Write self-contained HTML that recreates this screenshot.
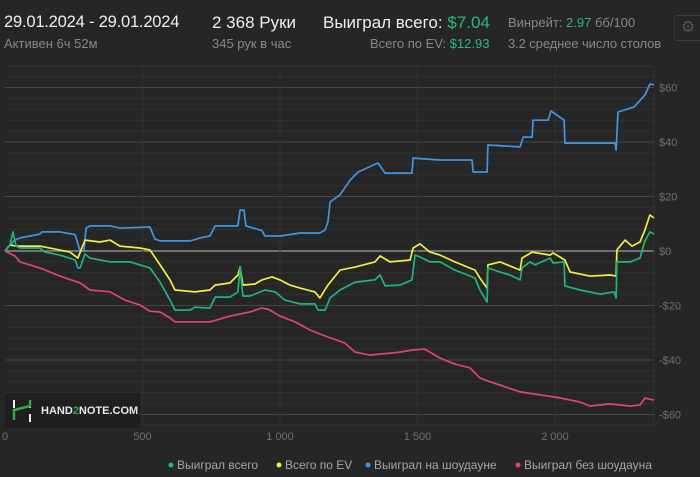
<!DOCTYPE html>
<html><head><meta charset="utf-8"><style>
body{margin:0;background:#262626;width:700px;height:477px;overflow:hidden;font-family:"Liberation Sans",sans-serif}
.t{position:absolute;white-space:nowrap}
</style></head><body>
<div style="position:relative;width:700px;height:477px">
<div class="t" style="left:4px;top:13px;font-size:16.5px;color:#eee;letter-spacing:-0.2px">29.01.2024 - 29.01.2024</div>
<div class="t" style="left:4px;top:36px;font-size:13px;color:#888">Активен 6ч 52м</div>
<div class="t" style="left:212px;top:13px;font-size:17px;color:#eee">2 368 Руки</div>
<div class="t" style="left:212px;top:36px;font-size:13px;color:#888">345 рук в час</div>
<div class="t" style="left:323px;top:13px;font-size:17px;color:#eee">Выиграл всего: <span style="color:#2bb77e">$7.04</span></div>
<div class="t" style="left:370px;top:36px;font-size:13px;color:#888">Всего по EV: <span style="color:#2bb77e">$12.93</span></div>
<div class="t" style="left:508px;top:15px;font-size:13px;color:#888">Винрейт: <span style="color:#2bb77e">2.97</span> бб/100</div>
<div class="t" style="left:508px;top:36px;font-size:13px;color:#888;letter-spacing:-0.1px">3.2 среднее число столов</div>
<div style="position:absolute;left:674px;top:15px;width:26px;height:24px;border:1px solid #3a3a3a;border-radius:3px;color:#555;font-size:16px;text-align:center;line-height:24px">⚙</div>
<svg id="chart" width="700" height="477" style="position:absolute;left:0;top:0"></svg>
</div>
<script>
const xTicks=[0,500,1000,1500,2000];
const xTickLabels=["0","500","1 000","1 500","2 000"];
const yTicks=[60,40,20,0,-20,-40,-60];
const yTickLabels=["$60","$40","$20","$0","-$20","-$40","-$60"];
const wonHands=[0,18,29,40,55,127,145,200,255,265,273,291,309,382,455,527,564,600,618,673,691,745,764,818,847,855,865,891,945,982,1018,1073,1127,1138,1164,1182,1218,1273,1345,1364,1382,1436,1480,1491,1509,1545,1582,1636,1709,1727,1753,1756,1800,1836,1873,1880,1909,1927,1982,1993,2033,2036,2091,2164,2215,2222,2225,2273,2309,2327,2345,2360];
const wonValues=[0,2.2,7,1.8,1.1,1.1,-0.4,-1.5,-3.3,-6.2,-6.2,-1.1,-2.6,-4,-4,-6.2,-11.4,-18,-21.7,-21.7,-20.6,-21,-16.9,-16.9,-15,-6.2,-16.5,-16.5,-14.3,-15,-18,-19.4,-19.4,-21.7,-21.7,-17.2,-14.3,-11.4,-10.6,-8.8,-12.8,-12.5,-10.6,-1.5,-2.2,-4,-4,-7,-9.9,-14.3,-18.7,-6.2,-7.7,-8.8,-10.6,-6.2,-4,-5.1,-2.6,-4.4,-4,-12.8,-14.3,-15.8,-15,-17.2,-4,-4,-2.6,3.7,7,6.2];
const evHands=[0,18,40,127,236,265,291,345,382,418,491,527,564,600,618,691,745,764,818,847,855,865,909,934,971,1000,1036,1073,1127,1145,1174,1218,1273,1345,1364,1400,1473,1484,1509,1545,1582,1636,1709,1727,1753,1756,1800,1873,1880,1917,1982,1993,2036,2055,2127,2200,2222,2225,2255,2280,2309,2327,2345,2360];
const evValues=[0,2.2,1.8,1.8,-0.4,-2.6,4,3.3,4,1.8,1.1,0.4,-5.1,-10.6,-14.3,-15,-14.3,-12.5,-11.7,-8.8,-5.9,-12.5,-12.1,-10.6,-9.5,-10.6,-12.5,-13.6,-15,-17.2,-12.5,-7,-5.9,-4,-1.8,-4,-3.3,1.1,2.6,-0.4,-1.5,-4,-7,-9.9,-13.6,-5.1,-4,-7,-2.6,-0.4,-1.5,-0.7,-3.3,-7.7,-9.2,-8.8,-9.2,0.4,4,1.8,3.3,7.7,13.2,12.1];
const sdHands=[0,11,36,55,91,127,134,200,255,273,287,295,309,345,382,418,527,545,564,673,709,745,764,847,855,869,876,934,945,1000,1073,1145,1164,1174,1182,1218,1255,1284,1356,1382,1480,1484,1582,1698,1702,1753,1756,1873,1884,1917,1920,1975,1985,2033,2036,2218,2222,2229,2287,2327,2345,2360];
const sdValues=[0,1.5,4,4.8,5.5,6.2,7,7,6,0,0,8.4,9.2,9.2,9.2,8.4,8.8,4.4,3.7,3.7,4.8,5.5,9.2,9.2,15,15,9.2,7.5,5.5,5.5,6.6,6.6,7.7,10.6,18,20.6,26,29,32.3,28.6,28.6,34.1,33.4,33.4,29,29,38.9,38.2,41.8,41.8,48,48,51.4,48,39.6,39.6,37,51,52.8,57.2,61.3,61];
const nsdHands=[0,36,55,127,200,273,309,382,436,491,527,564,600,618,673,745,818,891,934,960,1000,1055,1109,1164,1236,1273,1327,1436,1484,1527,1582,1636,1691,1727,1764,1800,1873,1945,2018,2091,2127,2200,2273,2309,2327,2360];
const nsdValues=[0,-1.8,-4,-6.2,-9.2,-11.7,-14.3,-15,-18,-19.8,-22.1,-22.4,-24.6,-26,-26,-26,-23.9,-22.4,-20.9,-21.5,-23.9,-26,-29,-31.2,-33.8,-37.1,-38.2,-37.1,-36.3,-36,-39.3,-41.5,-42.9,-46.6,-48,-49.2,-51.7,-52.8,-53.9,-55.4,-56.9,-56.1,-56.9,-56.5,-54,-54.7];

const NS='http://www.w3.org/2000/svg';
const svg=document.getElementById('chart');
const L=5,R=654,T=66,B=425;
function X(h){return 5+h*0.275;}
function Y(v){return 251-v*2.725;}
function mk(tag,attrs,parent){const e=document.createElementNS(NS,tag);for(const k in attrs)e.setAttribute(k,attrs[k]);(parent||svg).appendChild(e);return e;}
for(let v=-64;v<=64;v+=4){const y=Y(v);if(y<T||y>B)continue;
 const g=mk('line',{x1:L,x2:R,y1:y,y2:y,stroke:v===0?'#8a8a8a':(v%20===0?'#464646':'#313131'),'stroke-width':v===0?1.5:1});
 
 }
mk('line',{x1:L,x2:R,y1:T,y2:T,stroke:'#333'});
mk('line',{x1:L,x2:R,y1:B,y2:B,stroke:'#333'});
mk('line',{x1:R,x2:R,y1:T,y2:B,stroke:'#333'});
xTicks.forEach((t,i)=>{const x=X(t);
 if(t>0){const g=mk('line',{x1:x,x2:x,y1:T,y2:B,stroke:'#333'});
 
 }
 const tx=mk('text',{x:x,y:440,fill:'#6f6f6f','font-size':11,'text-anchor':'middle','font-family':'Liberation Sans, sans-serif'});
 tx.textContent=xTickLabels[i];
 
 });
yTicks.forEach((t,i)=>{const tx=mk('text',{x:659,y:Y(t)+4,fill:'#6f6f6f','font-size':11,'font-family':'Liberation Sans, sans-serif'});
 tx.textContent=yTickLabels[i];
 
 });
const wm=mk('g',{});


mk('rect',{x:5,y:393,width:135,height:35,fill:'#1f1f1f'},wm);
mk('path',{d:'M14 400 v8 M30 400 v8 M14 420 v-10 l16 -4 M30 414 v8',stroke:'#eee','stroke-width':2,fill:'none'},wm);
mk('path',{d:'M14 410 v10 M14 410 L30 406 v-6',stroke:'#2aa84a','stroke-width':2.5,fill:'none'},wm);
const wt=mk('text',{x:41,y:414,fill:'#e8e8e8','font-size':11,'font-weight':'bold','font-family':'Liberation Sans, sans-serif'},wm);
wt.innerHTML='HAND<tspan fill="#2aa84a">2</tspan>NOTE.COM';
function series(h,v,color,name){const n=Math.min(h.length,v.length);let d='';
 for(let i=0;i<n;i++)d+=(i?'L':'M')+X(h[i]).toFixed(1)+' '+Y(v[i]).toFixed(1);
 const p=mk('path',{d:d,stroke:color,'stroke-width':1.7,fill:'none','stroke-linejoin':'round'});
 
 }
series(nsdHands,nsdValues,'#e0437c','line-won-without-showdown');
series(sdHands,sdValues,'#3f95e2','line-won-at-showdown');
series(evHands,evValues,'#eeee44','line-all-in-ev');
series(wonHands,wonValues,'#1fb57a','line-total-won');
const leg=[['Выиграл всего','#1fb57a',171],['Всего по EV','#eeee44',279],['Выиграл на шоудауне','#3f95e2',368],['Выиграл без шоудауна','#e0437c',518]];
leg.forEach(l=>{const g=mk('g',{});
 
 
 mk('circle',{cx:l[2],cy:465,r:2.5,fill:l[1]},g);
 const t=mk('text',{x:l[2]+6,y:469,fill:'#a5a5a5','font-size':12,'font-family':'Liberation Sans, sans-serif'},g);
 t.textContent=l[0];});
</script>
</body></html>
